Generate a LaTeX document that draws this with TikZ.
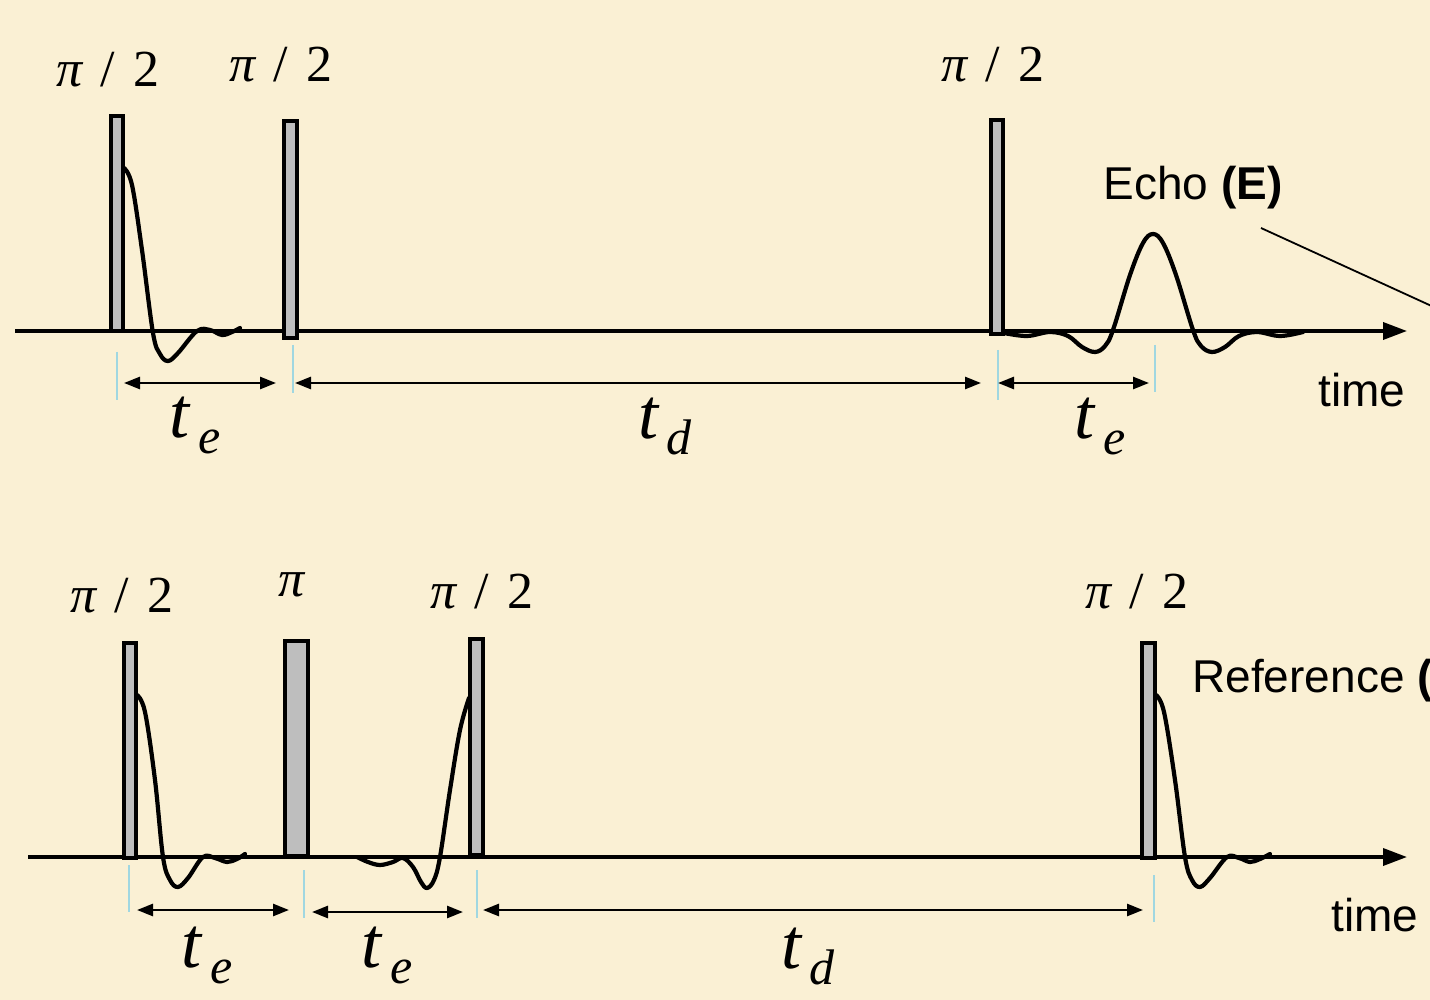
\documentclass[tikz,border=0pt]{standalone}
\usepackage{fontspec}
\setmainfont{Liberation Serif}
\newfontfamily\labfont{Liberation Sans}
\usetikzlibrary{arrows.meta}
\definecolor{bg}{RGB}{250,240,212}
\definecolor{pulsegray}{RGB}{190,190,190}
\definecolor{tickcyan}{RGB}{160,215,225}
\newcommand{\mytsub}[1]{{\fontsize{36}{40}\selectfont\itshape t}\raisebox{-8pt}{\fontsize{25}{30}\selectfont\itshape\,#1}}
\newcommand{\mypihalf}{{\fontsize{26}{30}\selectfont\itshape π\hspace{9pt}\upshape/\hspace{9pt}2}}
\newcommand{\mypulse}[5]{\node[pulse, minimum width={(#4-#2)*0.5pt}, minimum height={(#5-#3)*0.5pt}] (#1) at ({(#2+#4)/2},{(#3+#5)/2}) {};}
\begin{document}
\begin{tikzpicture}[x=0.5pt,y=-0.5pt,
  pulse/.style={draw=black, fill=pulsegray, line width=1.8pt, inner sep=0pt, outer sep=0pt},
  axis/.style={line width=1.8pt, -{Triangle[length=12pt,width=8.5pt]}},
  dim/.style={line width=1.3pt, {Triangle[length=8pt,width=6pt]}-{Triangle[length=8pt,width=6pt]}},
  tickmark/.style={draw=tickcyan, line width=0.9pt},
  wave/.style={line width=2.1pt, line join=round, line cap=round},
  lbl/.style={inner sep=0pt},
  txt/.style={inner sep=0pt, font=\labfont\fontsize{23}{27}\selectfont}
]
\fill[bg] (0,0) rectangle (1430,1000);
\useasboundingbox (0,0) rectangle (1430,1000);
\clip (0,0) rectangle (1430,1000);

% ---------- top sequence ----------
\coordinate (a1s) at (15,331);
\coordinate (a1e) at (1407,331);
\draw[axis] (a1s) -- (a1e);

\mypulse{p1}{111}{116}{123}{331}
\mypulse{p2}{284}{121}{297}{338}
\mypulse{p3}{991}{120}{1003}{334}

\draw[wave] plot[smooth, tension=0.6] coordinates {(124,168) (132,185) (142,250) (153,333) (160,354) (168,361) (178,353) (197,331) (210,330) (222,335) (232,332) (240,328)};
\draw[wave] plot[smooth, tension=0.6] coordinates {(1004,333) (1027,336) (1050,332) (1068,336) (1082,347) (1095,352) (1105,346) (1113,330) (1130,275) (1143,243) (1153,234) (1163,243) (1176,275) (1193,330) (1201,346) (1212,352) (1225,347) (1239,336) (1257,332) (1280,336) (1303,332)};

\coordinate (k1a) at (117,352); \coordinate (k1b) at (117,400);
\coordinate (k2a) at (293,345); \coordinate (k2b) at (293,393);
\coordinate (k3a) at (998,350); \coordinate (k3b) at (998,400);
\coordinate (k4a) at (1155,345); \coordinate (k4b) at (1155,392);
\draw[tickmark] (k1a) -- (k1b);
\draw[tickmark] (k2a) -- (k2b);
\draw[tickmark] (k3a) -- (k3b);
\draw[tickmark] (k4a) -- (k4b);

\coordinate (d1s) at (124,383); \coordinate (d1e) at (276,383);
\coordinate (d2s) at (295,383); \coordinate (d2e) at (981,383);
\coordinate (d3s) at (998,383); \coordinate (d3e) at (1149,383);
\draw[dim] (d1s) -- (d1e);
\draw[dim] (d2s) -- (d2e);
\draw[dim] (d3s) -- (d3e);

\node[lbl] (te1) at (195,425) {\mytsub{e}};
\node[lbl] (td1) at (665,426) {\mytsub{d}};
\node[lbl] (te2) at (1100,426) {\mytsub{e}};

\node[lbl] (l1) at (108,70) {\mypihalf};
\node[lbl] (l2) at (281,65) {\mypihalf};
\node[lbl] (l3) at (993,65) {\mypihalf};

\node[txt] (echo) at (1193,188) {Echo \textbf{(E)}};
\coordinate (e1) at (1261,228);
\coordinate (e2) at (1460,319);
\draw[line width=0.9pt] (e1) -- (e2);
\node[txt] (time1) at (1362,390) {time};

% ---------- bottom sequence ----------
\coordinate (a2s) at (28,857);
\coordinate (a2e) at (1407,857);
\draw[axis] (a2s) -- (a2e);

\mypulse{q1}{124}{643}{136}{858}
\mypulse{q2}{285}{641}{308}{856}
\mypulse{q3}{470}{639}{483}{855}
\mypulse{q4}{1142}{643}{1155}{858}

\draw[wave] plot[smooth, tension=0.6] coordinates {(137,695) (145,712) (155,780) (163,857) (170,880) (178,887) (188,878) (203,857) (215,858) (227,862) (237,859) (245,854)};
\draw[wave] plot[smooth, tension=0.6] coordinates {(357,857) (368,862) (380,865) (393,862) (403,858) (413,867) (421,882) (427,888) (434,880) (440,857) (450,790) (460,730) (469,698)};
\draw[wave] plot[smooth, tension=0.6] coordinates {(1156,695) (1164,712) (1175,780) (1185,857) (1192,880) (1200,887) (1210,878) (1227,857) (1239,858) (1250,862) (1260,859) (1270,854)};

\coordinate (m1a) at (129,865); \coordinate (m1b) at (129,912);
\coordinate (m2a) at (304,870); \coordinate (m2b) at (304,918);
\coordinate (m3a) at (477,870); \coordinate (m3b) at (477,918);
\coordinate (m4a) at (1154,875); \coordinate (m4b) at (1154,922);
\draw[tickmark] (m1a) -- (m1b);
\draw[tickmark] (m2a) -- (m2b);
\draw[tickmark] (m3a) -- (m3b);
\draw[tickmark] (m4a) -- (m4b);

\coordinate (f1s) at (137,910); \coordinate (f1e) at (289,910);
\coordinate (f2s) at (312,912); \coordinate (f2e) at (463,912);
\coordinate (f3s) at (483,910); \coordinate (f3e) at (1143,910);
\draw[dim] (f1s) -- (f1e);
\draw[dim] (f2s) -- (f2e);
\draw[dim] (f3s) -- (f3e);

\node[lbl] (te3) at (207,955) {\mytsub{e}};
\node[lbl] (te4) at (387,955) {\mytsub{e}};
\node[lbl] (td2) at (808,956) {\mytsub{d}};

\node[lbl] (n1) at (122,596) {\mypihalf};
\node[lbl] (n2) at (292,585) {\fontsize{26}{30}\selectfont\itshape π};
\node[lbl] (n3) at (482,592) {\mypihalf};
\node[lbl] (n4) at (1137,592) {\mypihalf};

\node[txt, anchor=west] (ref) at (1192,681) {Reference \textbf{(R)}};
\node[txt] (time2) at (1375,915) {time};
\end{tikzpicture}
\end{document}
